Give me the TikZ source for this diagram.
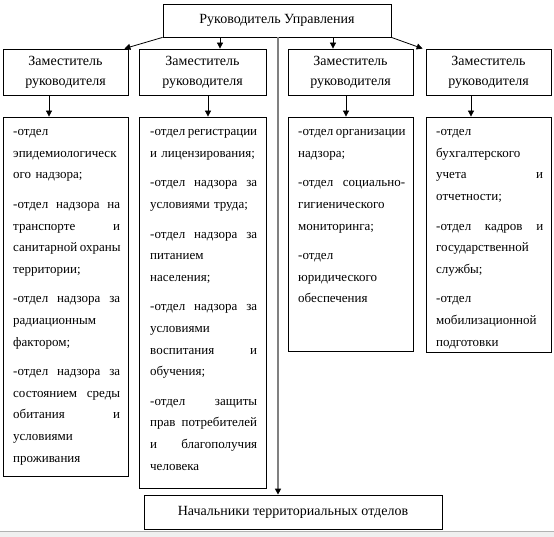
\documentclass[tikz,border=0pt]{standalone}
\usepackage{fontspec}
\setmainfont{Liberation Serif}
\usetikzlibrary{arrows.meta,shadows,calc}
\newcommand\jl[1]{\leavevmode\hbox to 107pt{\spaceskip=0.25em plus 20em minus 0.05em\relax #1}}
\begin{document}
\begin{tikzpicture}[x=1pt,y=-1pt,
  box/.style={draw=black,line width=0.8pt,fill=white,inner sep=0pt,
    drop shadow={shadow xshift=1pt,shadow yshift=-1pt,fill=black!80,opacity=1}},
  arr/.style={line width=0.8pt,-{Triangle[length=6pt,width=6pt]}},
  dtext/.style={anchor=north west,inner sep=0pt,align=left,text width=107pt,
    font=\fontsize{13}{21.6}\selectfont},
  htext/.style={font=\fontsize{14}{20}\selectfont,align=center}]

\useasboundingbox (0,0) rectangle (554,537);
\fill[gray!12] (0,531) rectangle (554,537);
\draw[gray!60,line width=0.6pt] (0,531) -- (554,531);

% top
\node[box,minimum width=228pt,minimum height=33pt,htext] (top) at (277,20.5) {Руководитель Управления};

% deputies
\node[box,minimum width=125pt,minimum height=46pt,htext] (d1) at (65.5,72) {Заместитель\\руководителя};
\node[box,minimum width=127pt,minimum height=46pt,htext] (d2) at (202.5,72) {Заместитель\\руководителя};
\node[box,minimum width=125pt,minimum height=46pt,htext] (d3) at (350.5,72) {Заместитель\\руководителя};
\node[box,minimum width=125pt,minimum height=46pt,htext] (d4) at (488.5,72) {Заместитель\\руководителя};

% department boxes
\node[box,minimum width=125pt,minimum height=359pt] (b1) at (65.5,296.5) {};
\node[box,minimum width=127pt,minimum height=371pt] (b2) at (202.5,302.5) {};
\node[box,minimum width=125pt,minimum height=234pt] (b3) at (350.5,234) {};
\node[box,minimum width=125pt,minimum height=235pt] (b4) at (488.5,234.5) {};

% bottom
\node[box,minimum width=298pt,minimum height=34pt,htext] (bot) at (293,512) {Начальники территориальных отделов};

% texts
\node[dtext] (t1) at (13,120.3) {\strut-отдел\\
эпидемиологическ\\
ого надзора;\\[8pt]
\jl{-отдел надзора на}\\
\jl{транспорте и}\\
\jl{санитарной охраны}\\
территории;\\[8pt]
\jl{-отдел надзора за}\\
радиационным\\
фактором;\\[8pt]
\jl{-отдел надзора за}\\
\jl{состоянием среды}\\
\jl{обитания и}\\
условиями\\
проживания};

\node[dtext] (t2) at (150,120.3) {\strut\jl{-отдел регистрации}\\
и лицензирования;\\[8pt]
\jl{-отдел надзора за}\\
условиями труда;\\[8pt]
\jl{-отдел надзора за}\\
питанием\\
населения;\\[8pt]
\jl{-отдел надзора за}\\
условиями\\
\jl{воспитания и}\\
обучения;\\[8pt]
\jl{-отдел защиты}\\
\jl{прав потребителей}\\
\jl{и благополучия}\\
человека};

\node[dtext] (t3) at (298,120.3) {\strut\jl{-отдел организации}\\
надзора;\\[8pt]
\jl{-отдел социально-}\\
гигиенического\\
мониторинга;\\[8pt]
-отдел\\
юридического\\
обеспечения};

\node[dtext] (t4) at (436,120.3) {\strut-отдел\\
бухгалтерского\\
\jl{учета и}\\
отчетности;\\[8pt]
\jl{-отдел кадров и}\\
государственной\\
службы;\\[8pt]
-отдел\\
мобилизационной\\
подготовки};

% connectors
\coordinate (a2) at (220,0);
\coordinate (a3) at (333,0);
\coordinate (vl) at (278,0);
\coordinate (c1) at (49,0);
\coordinate (c2) at (208,0);
\coordinate (c3) at (346,0);
\coordinate (c4) at (471,0);

\draw[arr] (top.south west) -- ($(d1.north east)+(-4,0)$);
\draw[arr] (top.south east) -- ($(d4.north west)+(-3,0)$);
\draw[arr] (a2 |- top.south) -- (a2 |- d2.north);
\draw[arr] (a3 |- top.south) -- (a3 |- d3.north);
\draw[black!50,line width=2.4pt,-{Triangle[length=6pt,width=6pt,black]}] (vl |- top.south) -- (vl |- bot.north);

\draw[arr] (c1 |- d1.south) -- (c1 |- b1.north);
\draw[arr] (c2 |- d2.south) -- (c2 |- b2.north);
\draw[arr] (c3 |- d3.south) -- (c3 |- b3.north);
\draw[arr] (c4 |- d4.south) -- (c4 |- b4.north);
\end{tikzpicture}
\end{document}
